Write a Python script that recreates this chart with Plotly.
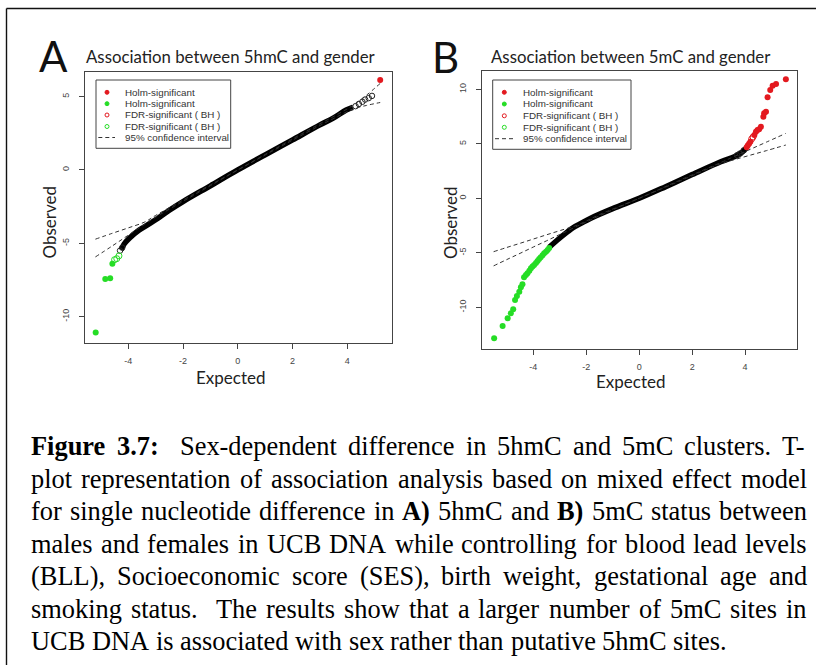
import plotly.graph_objects as go

W, H = 816, 665

# ---------------- data: panel A (5hmC) ----------------
A_BLACK_X = [-4.26, -4.15, -3.96, -3.6, -3.1, -2.5, -2.0, -1.0, 0.0, 1.0, 2.0, 3.0, 3.5, 3.96, 4.2]
A_BLACK_Y = [-5.45, -5.05, -4.66, -4.1, -3.52, -2.75, -2.16, -1.08, 0.0, 1.03, 2.05, 3.07, 3.55, 4.09, 4.27]
A_TAIL_X = [-4.3, -4.22, 4.3, 4.42, 4.55, 4.65, 4.78, 4.9]
A_TAIL_Y = [-5.5, -5.3, 4.35, 4.5, 4.65, 4.8, 4.9, 5.05]
A_RED_X = [5.2]
A_RED_Y = [6.14]
A_GREEN_X = [-5.19, -4.84, -4.66, -4.58]
A_GREEN_Y = [-11.09, -7.43, -7.38, -6.39]
A_GREEN_OPEN_X = [-4.5, -4.42, -4.34]
A_GREEN_OPEN_Y = [-6.12, -6.05, -5.86]
A_CI_X = [-5.2, -4.6, -4.0, -3.4, -3.0, -2.0, -1.0, 0.0, 1.0, 2.0, 3.0, 3.6, 4.2, 4.7, 5.2]
A_CI_LO = [-5.93, -5.2, -4.45, -3.7, -3.22, -2.14, -1.07, 0.0, 1.02, 2.03, 3.03, 3.6, 4.15, 4.4, 4.6]
A_CI_HI = [-4.72, -4.33, -3.95, -3.55, -3.1, -2.05, -1.02, 0.0, 1.06, 2.12, 3.15, 3.75, 4.4, 5.1, 5.9]

# ---------------- data: panel B (5mC) ----------------
B_BLACK_X = [-3.4, -3.1, -2.7, -2.5, -2.2, -1.83, -1.0, 0.0, 1.0, 2.0, 3.08, 3.59, 3.85, 4.03]
B_BLACK_Y = [-4.5, -3.85, -3.06, -2.7, -2.3, -1.83, -0.95, 0.0, 1.07, 2.18, 3.36, 3.82, 4.15, 4.59]
B_TAIL_X = [3.7, 3.8, 3.95]
B_TAIL_Y = [3.95, 4.1, 4.4]
B_RED_X = [4.06, 4.1, 4.15, 4.2, 4.35, 4.41, 4.47, 4.53, 4.6, 4.69, 4.72, 4.79, 4.85, 4.95, 5.04, 5.17, 5.54]
B_RED_Y = [4.68, 4.85, 5.0, 5.2, 5.81, 6.11, 6.27, 6.33, 6.57, 7.49, 7.8, 7.95, 9.27, 9.94, 10.33, 10.49, 10.92]
B_RED_OPEN_X = [4.25, 4.3]
B_RED_OPEN_Y = [5.45, 5.62]
B_GREEN_X = [-5.48, -5.16, -4.97, -4.85, -4.76, -4.69, -4.62, -4.53, -4.47, -4.41, -4.35, -4.28, -4.22,
             -4.15, -4.09, -4.03, -3.97, -3.9, -3.84, -3.78, -3.72, -3.65, -3.59, -3.52, -3.46, -3.4]
B_GREEN_Y = [-12.84, -11.72, -11.0, -10.55, -10.18, -9.33, -8.96, -8.57, -8.17, -7.89, -7.25, -7.05, -6.88,
             -6.65, -6.42, -6.27, -6.12, -5.93, -5.75, -5.58, -5.41, -5.22, -5.05, -4.9, -4.74, -4.55]
B_CI_X = [-5.5, -5.0, -4.5, -4.0, -3.5, -3.0, -2.33, -1.5, 0.0, 1.5, 3.1, 3.6, 4.2, 4.8, 5.54]
B_CI_LO = [-6.2, -5.62, -5.05, -4.47, -3.9, -3.32, -2.55, -1.6, 0.0, 1.55, 3.2, 3.55, 3.96, 4.37, 4.89]
B_CI_HI = [-4.9, -4.51, -4.13, -3.74, -3.35, -2.97, -2.45, -1.5, 0.0, 1.62, 3.3, 3.85, 4.5, 5.15, 5.96]

# ---------------- ticks / text ----------------
X_TICKS = [-4, -2, 0, 2, 4]
X_TICK_TEXT = ["-4", "-2", "0", "2", "4"]
A_Y_TICKS = [-10, -5, 0, 5]
A_Y_TICK_TEXT = ["-10", "-5", "0", "5"]
B_Y_TICKS = [-10, -5, 0, 5, 10]
B_Y_TICK_TEXT = ["-10", "-5", "0", "5", "10"]
LEGEND_LABELS = ["Holm-significant", "Holm-significant", "FDR-significant ( BH )",
                 "FDR-significant ( BH )", "95% confidence interval"]
TITLE_A = "Association between 5hmC and gender"
TITLE_B = "Association between 5mC and gender"
CAPTION_LINES = [
    "*Figure *3.7:  Sex-dependent difference in 5hmC and 5mC clusters. T-",
    "plot representation of association analysis based on mixed effect model",
    "for single nucleotide difference in *A) 5hmC and *B) 5mC status between",
    "males and females in UCB DNA while controlling for blood lead levels",
    "(BLL), Socioeconomic score (SES), birth weight, gestational age and",
    "smoking status.  The results show that a larger number of 5mC sites in",
    "UCB DNA is associated with sex rather than putative 5hmC sites.",
]

RED = "#e3191f"
GREEN = "#25dd25"
DARK = "#333333"
TITLE_FONT = "Lato, 'Open Sans', sans-serif"
ARIAL = "'Liberation Sans', Arial, sans-serif"
SERIF = "'Liberation Serif', 'Times New Roman', serif"

fig = go.Figure()


def add_panel(xa, ya, bx, by, tx, ty, gx, gy, gox, goy, rx, ry, rox, roy, cix, cilo, cihi):
    fig.add_trace(go.Scatter(x=bx, y=by, mode="lines", line=dict(color="black", width=5.5, shape="spline"),
                             xaxis=xa, yaxis=ya, showlegend=False, hoverinfo="skip"))
    if tx:
        fig.add_trace(go.Scatter(x=tx, y=ty, mode="markers",
                                 marker=dict(symbol="circle-open", size=5.5, color="#222", line=dict(width=1)),
                                 xaxis=xa, yaxis=ya, showlegend=False, hoverinfo="skip"))
    for yy in (cilo, cihi):
        fig.add_trace(go.Scatter(x=cix, y=yy, mode="lines", line=dict(color=DARK, width=1, dash="4px,3px", shape="spline"),
                                 xaxis=xa, yaxis=ya, showlegend=False, hoverinfo="skip"))
    if gox:
        fig.add_trace(go.Scatter(x=gox, y=goy, mode="markers",
                                 marker=dict(symbol="circle-open", size=6, color=GREEN, line=dict(width=1)),
                                 xaxis=xa, yaxis=ya, showlegend=False, hoverinfo="skip"))
    fig.add_trace(go.Scatter(x=gx, y=gy, mode="markers", marker=dict(symbol="circle", size=6, color=GREEN),
                             xaxis=xa, yaxis=ya, showlegend=False, hoverinfo="skip"))
    if rox:
        fig.add_trace(go.Scatter(x=rox, y=roy, mode="markers",
                                 marker=dict(symbol="circle-open", size=6, color=RED, line=dict(width=1)),
                                 xaxis=xa, yaxis=ya, showlegend=False, hoverinfo="skip"))
    fig.add_trace(go.Scatter(x=rx, y=ry, mode="markers", marker=dict(symbol="circle", size=6, color=RED),
                             xaxis=xa, yaxis=ya, showlegend=False, hoverinfo="skip"))


add_panel("x", "y", A_BLACK_X, A_BLACK_Y, A_TAIL_X, A_TAIL_Y, A_GREEN_X, A_GREEN_Y, A_GREEN_OPEN_X, A_GREEN_OPEN_Y,
          A_RED_X, A_RED_Y, [], [], A_CI_X, A_CI_LO, A_CI_HI)
add_panel("x2", "y2", B_BLACK_X, B_BLACK_Y, B_TAIL_X, B_TAIL_Y, B_GREEN_X, B_GREEN_Y, [], [],
          B_RED_X, B_RED_Y, B_RED_OPEN_X, B_RED_OPEN_Y, B_CI_X, B_CI_LO, B_CI_HI)


def px(x):
    return x / W


def py(y):
    return 1 - y / H


tickfont = dict(family=ARIAL, size=9, color="#444")
axis_common = dict(showline=True, mirror=True, linecolor="#444", linewidth=1, ticks="outside", ticklen=5,
                   tickwidth=1, tickcolor="#444", showgrid=False, zeroline=False, tickfont=tickfont,
                   fixedrange=True)

fig.update_layout(
    xaxis=dict(domain=[px(85), px(391.7)], range=[-5.58, 5.62], anchor="y", tickvals=X_TICKS,
               ticktext=X_TICK_TEXT, ticklabelstandoff=4, **axis_common),
    yaxis=dict(domain=[py(343), py(71.7)], range=[-11.8, 6.7], anchor="x", tickvals=A_Y_TICKS,
               ticktext=A_Y_TICK_TEXT, tickangle=-90, ticklabelstandoff=6, **axis_common),
    xaxis2=dict(domain=[px(481.7), px(796.7)], range=[-5.95, 5.95], anchor="y2", tickvals=X_TICKS,
                ticktext=X_TICK_TEXT, ticklabelstandoff=4, **axis_common),
    yaxis2=dict(domain=[py(349), py(70.7)], range=[-13.83, 11.71], anchor="x2", tickvals=B_Y_TICKS,
                ticktext=B_Y_TICK_TEXT, tickangle=-90, ticklabelstandoff=6, **axis_common),
)

annotations = []
shapes = []


def text(x, y, s, size, family=TITLE_FONT, color="#222", xanchor="center", angle=0):
    annotations.append(dict(x=px(x), y=py(y), xref="paper", yref="paper", text=s, showarrow=False,
                            xanchor=xanchor, yanchor="middle", textangle=angle, borderpad=0,
                            font=dict(family=family, size=size, color=color)))


# panel letters & titles
text(53, 56, "A", 42, color="#111")
text(446, 57, "B", 42, color="#111")
text(85, 56, TITLE_A, 16.8, xanchor="left")
text(490, 56, TITLE_B, 16.8, xanchor="left")
text(230, 377, "Expected", 17)
text(630, 382, "Expected", 17)
text(49, 222.5, "Observed", 17, angle=-90)
text(450, 223, "Observed", 17, angle=-90)


# legends (drawn as a key box)
def legend(x0, y0, x1, y1, sym_x, text_x, rows, dash_x0, dash_x1):
    shapes.append(dict(type="rect", xref="paper", yref="paper", x0=px(x0), x1=px(x1), y0=py(y0), y1=py(y1),
                       line=dict(color="#444", width=1), fillcolor="white", layer="above"))
    styles = [("fill", RED), ("fill", GREEN), ("open", RED), ("open", GREEN), ("dash", DARK)]
    r = 2.0
    for (kind, col), yy, lab in zip(styles, rows, LEGEND_LABELS):
        if kind == "dash":
            shapes.append(dict(type="line", xref="paper", yref="paper", x0=px(dash_x0), x1=px(dash_x1),
                               y0=py(yy), y1=py(yy), line=dict(color=col, width=1, dash="4px,3px"), layer="above"))
        else:
            shapes.append(dict(type="circle", xref="paper", yref="paper", x0=px(sym_x - r), x1=px(sym_x + r),
                               y0=py(yy + r), y1=py(yy - r), line=dict(color=col, width=1),
                               fillcolor=col if kind == "fill" else "rgba(0,0,0,0)", layer="above"))
        text(text_x, yy, lab, 9.8, family=ARIAL, color="#333", xanchor="left")


legend(96, 80, 230.7, 148.3, 107, 124.3, [92.3, 103.7, 115, 126.5, 137.5], 98.3, 115)
legend(492.7, 80, 631, 149.3, 504.3, 521.7, [92.3, 104, 115.8, 127.3, 138.7], 495, 513.3)

# outer frame (left and top edges visible)
shapes.append(dict(type="line", xref="paper", yref="paper", x0=px(6.5), x1=px(6.5), y0=py(8.5), y1=py(700),
                   line=dict(color="#111", width=1.4)))
shapes.append(dict(type="line", xref="paper", yref="paper", x0=px(6.5), x1=px(830), y0=py(8.5), y1=py(8.5),
                   line=dict(color="#111", width=1.4)))

# caption: justified text laid out word by word with Times metrics
TR = {' ': 250, '(': 333, ')': 333, ',': 250, '-': 333, '.': 250, ':': 278,
      'A': 722, 'B': 667, 'C': 667, 'D': 722, 'E': 611, 'F': 556, 'G': 722, 'H': 722, 'I': 333, 'L': 611,
      'M': 889, 'N': 722, 'S': 556, 'T': 611, 'U': 722,
      'a': 444, 'b': 500, 'c': 444, 'd': 500, 'e': 444, 'f': 333, 'g': 500, 'h': 500, 'i': 278, 'j': 278,
      'k': 500, 'l': 278, 'm': 778, 'n': 500, 'o': 500, 'p': 500, 'q': 500, 'r': 333, 's': 389, 't': 278,
      'u': 500, 'v': 500, 'w': 722, 'x': 500, 'y': 500, 'z': 444}
for d in "0123456789":
    TR[d] = 500
TB = {'F': 611, 'i': 278, 'g': 500, 'u': 556, 'r': 444, 'e': 444, '3': 500, '.': 250, '7': 500, ':': 333,
      'A': 722, 'B': 667, ')': 333}

CAP_SIZE = 26.4
CAP_LEFT, CAP_RIGHT = 30.0, 806.0
CAP_Y0, CAP_DY = 446.0, 32.5


def wwidth(w, bold):
    tab = TB if bold else TR
    return sum(tab.get(c, 500) for c in w) * CAP_SIZE / 1000.0


for li, line in enumerate(CAPTION_LINES):
    tokens = line.split(" ")
    words, gaps = [], []
    pending = 0
    for tok in tokens:
        if tok == "":
            pending += 1
            continue
        if words:
            gaps.append(pending + 1)
        pending = 0
        words.append(tok)
    parsed = [(w[1:], True) if w.startswith("*") else (w, False) for w in words]
    widths = [wwidth(w, b) for w, b in parsed]
    nsp = sum(gaps)
    spw = TR[' '] * CAP_SIZE / 1000.0
    natural = sum(widths) + nsp * spw
    last = li == len(CAPTION_LINES) - 1
    extra = 0 if last else (CAP_RIGHT - CAP_LEFT - natural) / nsp
    xcur = CAP_LEFT
    yc = CAP_Y0 + li * CAP_DY
    for i, ((w, b), wd) in enumerate(zip(parsed, widths)):
        s = "<b>%s</b>" % w if b else w
        text(xcur, yc, s, CAP_SIZE, family=SERIF, color="black", xanchor="left")
        xcur += wd
        if i < len(gaps):
            xcur += gaps[i] * (spw + extra)

fig.update_layout(width=W, height=H, margin=dict(l=0, r=0, t=0, b=0), paper_bgcolor="white",
                  plot_bgcolor="white", showlegend=False, annotations=annotations, shapes=shapes)

fig.write_html("out.html")
